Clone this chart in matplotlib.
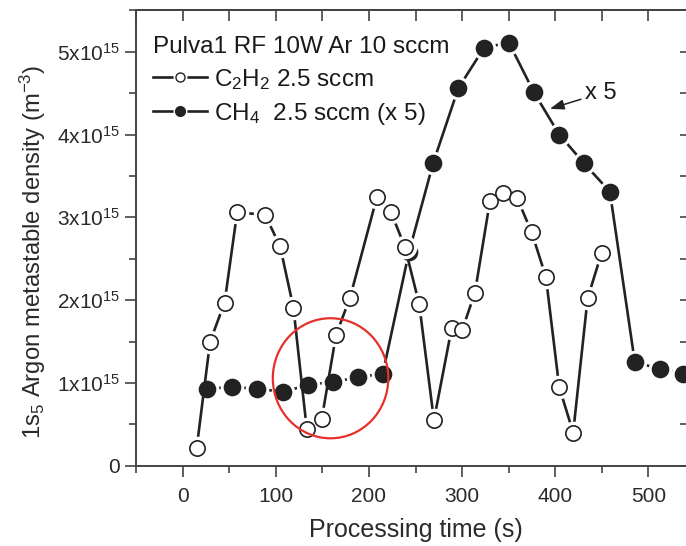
import matplotlib
matplotlib.use("Agg")
import matplotlib.pyplot as plt
from matplotlib.ticker import MultipleLocator, FuncFormatter
from matplotlib.lines import Line2D
from matplotlib.patches import Ellipse

plt.rcParams['font.family'] = ['Liberation Sans', 'DejaVu Sans']
plt.rcParams['mathtext.fontset'] = 'custom'
plt.rcParams['mathtext.rm'] = 'Liberation Sans'
plt.rcParams['mathtext.it'] = 'Liberation Sans:italic'

# C2H2 2.5 sccm (open circles), density in 1e15 m^-3
c2h2_t = [15, 29.5, 45, 58.5, 88.5, 104.6, 118.9, 133.3, 149.4, 164.7, 179.7,
          208.7, 223.7, 238.7, 254, 269.8, 288.8, 300.2, 313.8, 330, 343.5,
          359.2, 374.7, 390, 404.3, 419.3, 434.8, 449.8]
c2h2_n = [0.21, 1.50, 1.97, 3.06, 3.03, 2.65, 1.91, 0.44, 0.57, 1.58, 2.03,
          3.25, 3.06, 2.64, 1.95, 0.55, 1.66, 1.64, 2.09, 3.20, 3.29,
          3.23, 2.82, 2.28, 0.95, 0.40, 2.02, 2.57]

# CH4 2.5 sccm (x5) (filled circles)
ch4_t = [26.6, 53.4, 80.3, 108.2, 135, 161.8, 188.6, 214.8, 243, 269.1, 296,
         323.8, 350.3, 377.1, 404.3, 431.1, 458.7, 485.5, 512.3, 537.3]
ch4_n = [0.93, 0.95, 0.93, 0.89, 0.98, 1.01, 1.07, 1.11, 2.58, 3.66, 4.56,
         5.05, 5.11, 4.51, 4.00, 3.65, 3.31, 1.25, 1.17, 1.11]

SCALE = 1e15
legend_title = "Pulva1 RF 10W Ar 10 sccm"
label_c2h2 = r"$\mathregular{C_2H_2}$ 2.5 sccm"
label_ch4 = r"$\mathregular{CH_4}$  2.5 sccm (x 5)"

fig = plt.figure(figsize=(6.86, 5.46), dpi=100)
ax = fig.add_axes([136.1 / 686, 80.3 / 546, 558.8 / 686, 455.4 / 546])

dark = '#222222'
lw = 1.9
halo_ms = 17
ms = 11.5

def draw_series(t, n, filled, z):
    y = [v * SCALE for v in n]
    ax.plot(t, y, '-', color=dark, lw=lw, zorder=z, solid_capstyle='butt')
    ax.plot(t, y, 'o', ls='none', ms=halo_ms, mfc='white', mec='none', zorder=z + 0.1)
    ax.plot(t, y, 'o', ls='none', ms=ms if filled else ms - 0.5,
            mfc=dark if filled else 'white', mec=dark, mew=1.2, zorder=z + 0.2)

draw_series(ch4_t, ch4_n, True, 2)
draw_series(c2h2_t, c2h2_n, False, 3)

ax.set_xlim(-50, 550)
ax.set_ylim(0, 5.5 * SCALE)

ax.xaxis.set_major_locator(MultipleLocator(100))
ax.xaxis.set_minor_locator(MultipleLocator(50))
ax.yaxis.set_major_locator(MultipleLocator(1 * SCALE))
ax.yaxis.set_minor_locator(MultipleLocator(0.5 * SCALE))

def yfmt(v, pos):
    k = int(round(v / SCALE))
    if k == 0:
        return '0'
    return r'$\mathregular{%dx10^{15}}$' % k

ax.yaxis.set_major_formatter(FuncFormatter(yfmt))

spine_c = '#444444'
for s in ax.spines.values():
    s.set_color(spine_c)
    s.set_linewidth(1.4)

ax.tick_params(axis='both', which='both', colors=spine_c, labelcolor='#2a2a2a',
               labelsize=15, width=1.2, direction='out',
               top=False, right=False)
ax.tick_params(axis='both', which='major', length=8)
ax.tick_params(axis='both', which='minor', length=5)
ax.tick_params(axis='x', which='major', pad=7)

# inward ticks on top and right
top = ax.secondary_xaxis('top')
top.xaxis.set_major_locator(MultipleLocator(100))
top.xaxis.set_minor_locator(MultipleLocator(50))
top.tick_params(axis='x', which='both', direction='in', colors=spine_c,
                width=1.2, labeltop=False)
top.tick_params(axis='x', which='major', length=8)
top.tick_params(axis='x', which='minor', length=8)
top.spines['top'].set_color(spine_c)
top.spines['top'].set_linewidth(1.4)

right = ax.secondary_yaxis('right')
right.yaxis.set_major_locator(MultipleLocator(1 * SCALE))
right.yaxis.set_minor_locator(MultipleLocator(0.5 * SCALE))
right.tick_params(axis='y', which='both', direction='in', colors=spine_c,
                  width=1.2, labelright=False, length=11)

ax.set_xlabel('Processing time (s)', fontsize=18, color='#2a2a2a', labelpad=9)
ax.set_ylabel(r'$\mathregular{1s_5}$ Argon metastable density ($\mathregular{m^{-3}}$)',
              fontsize=17.2, color='#2a2a2a')
ax.yaxis.set_label_coords(-0.158, 0.469)

# legend
h1 = (Line2D([], [], color=dark, lw=lw),
      Line2D([], [], marker='o', ls='none', ms=10, mfc='white', mec='none'),
      Line2D([], [], marker='o', ls='none', ms=6.5, mfc='white', mec=dark, mew=1.0))
h2 = (Line2D([], [], color=dark, lw=lw),
      Line2D([], [], marker='o', ls='none', ms=10, mfc='white', mec='none'),
      Line2D([], [], marker='o', ls='none', ms=7, mfc=dark, mec=dark, mew=1.0))
leg = ax.legend([h1, h2], [label_c2h2, label_ch4], title=legend_title,
                loc='upper left', bbox_to_anchor=(0.0, 0.982), frameon=False,
                fontsize=17.5, title_fontsize=17.5, handlelength=2.2,
                handletextpad=0.3, labelspacing=0.38, borderaxespad=0.3,
                alignment='left')
for t in leg.get_texts():
    t.set_color('#1a1a1a')
leg.get_title().set_color('#1a1a1a')

# annotation
ax.annotate('x 5', xy=(394.3, 4.31 * SCALE), xytext=(432, 4.50 * SCALE),
            fontsize=17, color='#1a1a1a', va='center', ha='left',
            arrowprops=dict(arrowstyle='-|>,head_length=0.5,head_width=0.18',
                            color=dark, lw=1.1, shrinkA=1, shrinkB=0))

# red circle highlight
ax.add_patch(Ellipse((158.8, 1.056 * SCALE), width=124.0, height=1.45 * SCALE,
                     fill=False, ec='#e8302a', lw=1.6, zorder=6))

fig.savefig('out.png', dpi=100)
